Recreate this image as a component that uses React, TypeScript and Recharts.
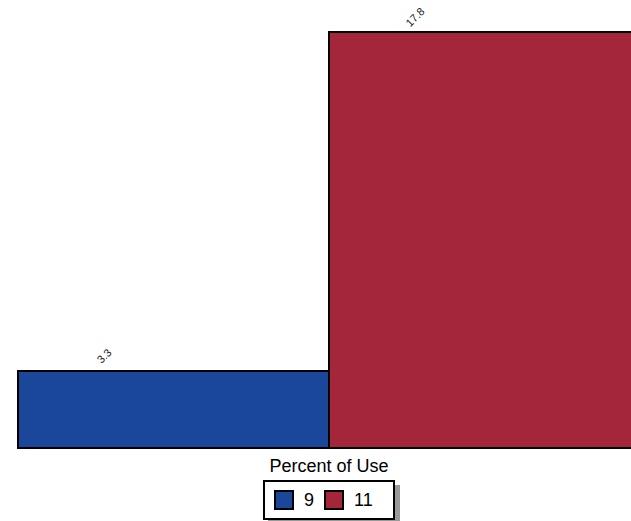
import { BarChart, Bar, XAxis, YAxis, LabelList } from "recharts";

const category = "Percent of Use";
const seriesNames = ["9", "11"];
const seriesValues = [3.3, 17.8];
const seriesColors = ["#1a479a", "#a4263b"];

const data = [
  seriesNames.reduce(
    (row, name, i) => ({ ...row, [name]: seriesValues[i] }),
    { name: category } as Record<string, string | number>
  ),
];

function RotatedLabel(props: any) {
  const { x, y, value } = props;
  const cx = x + 86;
  const cy = y - 15;
  return (
    <text
      x={cx}
      y={cy}
      textAnchor="middle"
      dominantBaseline="central"
      fontSize={11}
      fontFamily="Liberation Sans, Arial, sans-serif"
      fill="#222"
      transform={`rotate(-45 ${cx} ${cy})`}
    >
      {value}
    </text>
  );
}

function App() {
  return (
    <div
      style={{
        position: "fixed",
        left: 0,
        top: 0,
        width: 631,
        height: 521,
        overflow: "hidden",
        background: "#fff",
        fontFamily: "Liberation Sans, Arial, sans-serif",
      }}
    >
      <BarChart
        width={640}
        height={521}
        data={data}
        margin={{ top: 32, right: 0, bottom: 43, left: 18 }}
        barCategoryGap={0}
        barGap={0}
      >
        <XAxis
          dataKey="name"
          axisLine={false}
          tickLine={false}
          tickSize={0}
          tickMargin={11}
          height={30}
          tick={{ fill: "#000", fontSize: 18, fontFamily: "Liberation Sans, Arial, sans-serif" }}
        />
        <YAxis hide domain={[0, 17.8]} />
        {seriesNames.map((name, i) => (
          <Bar
            key={name}
            dataKey={name}
            fill={seriesColors[i]}
            stroke="#000"
            strokeWidth={2}
            isAnimationActive={false}
          >
            <LabelList dataKey={name} content={RotatedLabel} />
          </Bar>
        ))}
      </BarChart>
      <div
        style={{
          position: "absolute",
          left: 263,
          top: 480,
          width: 128,
          height: 36,
          border: "2px solid #000",
          boxShadow: "5px 5px 0 #999",
          background: "#fff",
          display: "flex",
          alignItems: "center",
          fontSize: 18,
          color: "#000",
        }}
      >
        {seriesNames.map((name, i) => (
          <div key={name} style={{ display: "flex", alignItems: "center", marginLeft: i === 0 ? 9 : 10 }}>
            <span
              style={{
                display: "inline-block",
                width: 16,
                height: 16,
                background: seriesColors[i],
                border: "2px solid #000",
              }}
            />
            <span style={{ marginLeft: 10 }}>{name}</span>
          </div>
        ))}
      </div>
    </div>
  );
}

export default App;
